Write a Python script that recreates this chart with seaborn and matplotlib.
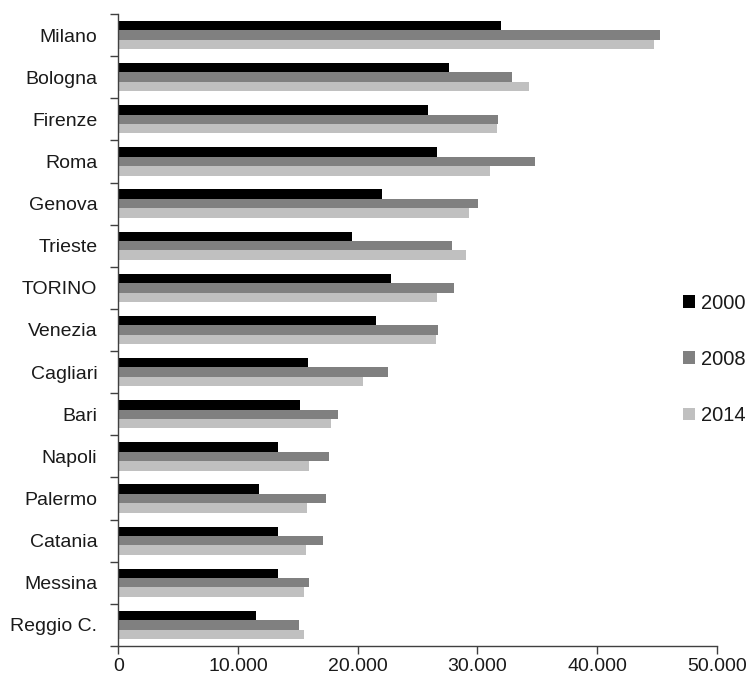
import matplotlib
matplotlib.use("Agg")
import matplotlib.pyplot as plt
import matplotlib.ticker as mticker
from matplotlib.patches import Patch
import seaborn as sns
import pandas as pd
import numpy as np

cities = ["Milano", "Bologna", "Firenze", "Roma", "Genova", "Trieste", "TORINO",
          "Venezia", "Cagliari", "Bari", "Napoli", "Palermo", "Catania", "Messina",
          "Reggio C."]
years = ["2000", "2008", "2014"]
v2000 = [31950, 27650, 25850, 26630, 22060, 19550, 22780, 21550, 15850, 15180,
         13370, 11750, 13370, 13370, 11530]
v2008 = [45280, 32920, 31750, 34810, 30050, 27850, 28050, 26710, 22500, 18330,
         17580, 17380, 17070, 15930, 15100]
v2014 = [44730, 34340, 31660, 31080, 29300, 29070, 26630, 26510, 20420, 17740,
         15930, 15740, 15650, 15540, 15540]
xticks = [0, 10000, 20000, 30000, 40000, 50000]
colors = ["#000000", "#808080", "#c0c0c0"]

df = pd.DataFrame({
    "city": cities * 3,
    "year": [years[0]] * len(cities) + [years[1]] * len(cities) + [years[2]] * len(cities),
    "value": v2000 + v2008 + v2014,
})

sns.set_style("white")
plt.rcParams["font.family"] = ["Liberation Sans", "DejaVu Sans"]

fig = plt.figure(figsize=(7.5, 6.82), dpi=100)
ax = fig.add_axes([0.1577, 0.0528, 0.798, 0.9267])

sns.barplot(data=df, x="value", y="city", hue="year", order=cities,
            hue_order=years, palette=colors, orient="h", width=0.67,
            gap=0, saturation=1, linewidth=0, ax=ax, legend=False)

ax.set_xlim(0, 50000)
ax.set_ylim(len(cities) - 0.5, -0.5)
ax.set_xlabel("")
ax.set_ylabel("")

ax.set_xticks(xticks)
ax.xaxis.set_major_formatter(mticker.FuncFormatter(lambda v, p: f"{int(v):,}".replace(",", ".")))
ax.tick_params(axis="x", direction="out", length=6, width=1, color="#404040",
               labelsize=14, pad=3, bottom=True, labelcolor="#1a1a1a")

ax.set_yticks(np.arange(len(cities) + 1) - 0.5)
ax.set_yticklabels([])
ax.set_yticks(np.arange(len(cities)), minor=True)
ax.set_yticklabels(cities, minor=True)
ax.tick_params(axis="y", which="major", direction="out", length=6, width=1,
               color="#404040", left=True)
ax.tick_params(axis="y", which="minor", length=0, labelsize=14, pad=15,
               labelcolor="#1a1a1a")

for s in ["top", "right"]:
    ax.spines[s].set_visible(False)
for s in ["left", "bottom"]:
    ax.spines[s].set_color("#404040")
    ax.spines[s].set_linewidth(1)

handles = [Patch(facecolor=c, edgecolor="none") for c in colors]
leg = fig.legend(handles, years, loc="center left", bbox_to_anchor=(0.91, 0.473),
                 frameon=False, fontsize=14.5, handlelength=0.6, handleheight=0.6,
                 handletextpad=0.3, labelspacing=1.85, borderpad=0, borderaxespad=0)
for t in leg.get_texts():
    t.set_color("#1a1a1a")

fig.savefig("out.png", dpi=100)
